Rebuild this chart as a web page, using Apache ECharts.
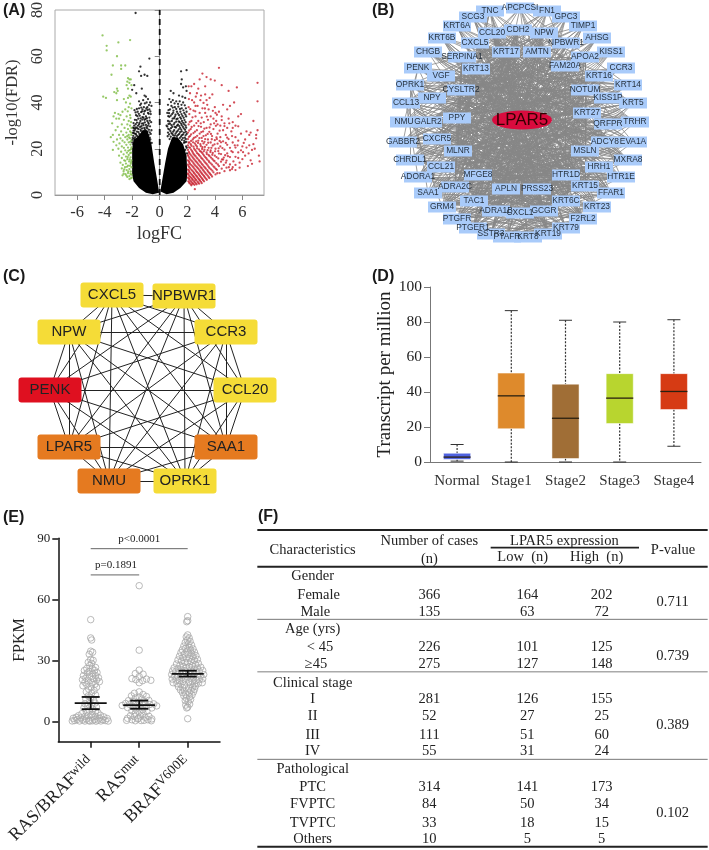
<!DOCTYPE html>
<html><head><meta charset="utf-8">
<style>html,body{margin:0;padding:0;background:#fff}#c{width:709px;height:850px}</style>
<script src="https://cdn.jsdelivr.net/npm/echarts@6/dist/echarts.min.js"></script></head>
<body><div id="c"></div>
<script>
// ---------- Panel A: volcano (logFC, -log10 FDR) ----------
const denseLeft=[[-0.05,1],[-0.5,0.3],[-1,1],[-1.5,3],[-1.9,6],[-2,9],[-2,20],[-1.9,24],[-1.6,25],[-1.25,28],[-0.9,28],[-0.6,22],[-0.4,14],[-0.2,7],[-0.06,2]];
const denseRight=[[0.05,1.5],[0.5,0.3],[1,1],[1.5,3],[1.95,6],[2,9],[1.95,17],[1.7,22],[1.3,25],[0.9,25],[0.6,20],[0.4,14],[0.2,7],[0.07,2.5]];
const blackPts=[[-1.75,78.7],[-0.75,59],[-1.4,55.5],[-1.5,53.5],[-1.1,52],[-1.35,51.5],[-0.9,51.5],[-1.85,47.5],[-2,45.5],[-1.3,46],[-1.7,44],[-1.1,43],[-1.0,42.5],[-0.85,41.5],[-1.2,41],[-1.5,40.5],[-0.7,40],[-0.95,40],[-1.35,39.5],[-0.6,38.5],[-1.15,38],[-0.9,38],[-1.5,37.5],[-1.25,37],[-0.75,37],[-1.05,36.5],[-1.6,36],[-1.35,35.8],[-0.85,35.5],[-1.15,35],[-0.65,35],[-1.72,34.5],[-1.45,34.3],[-1,34],[-1.25,33.7],[-0.75,33.5],[-1.55,33],[-1.8,32.5],[-1.1,32.5],[-0.9,32],[-1.4,32],[-0.62,31.5],[-1.65,31.3],[-1.2,31],[-0.8,30.8],[-1.5,30.5],[-1,30.3],[-1.85,30],[-1.32,29.8],[-0.7,29.7],[-1.72,29.2],[-1.12,29],[-0.9,28.8],[-1.55,28.5],[-1.4,28.3],[-0.6,28],[-1.9,27.8],[-1.65,27.4],[-1.22,27.3],[-1.8,26.5],[-1.48,26.4],[-1.05,26.2],[-0.8,26],[-1.92,25.6],[-1.6,25.3],[-1.3,25.1],[-0.72,24.8],
[0.5,30],[0.8,45],[1,44],[1.4,43],[1.7,46.5],[1.9,47],[1.95,45],[1.55,53.5],[1.95,54],[1.6,50],[1.55,48],[0.7,41.5],[0.95,41],[1.2,40.5],[1.45,40.5],[1.7,40],[1.85,42],[1.65,42.5],[0.6,39],[0.85,38.5],[1.1,38],[1.35,38.2],[1.6,37.5],[1.9,37.5],[0.75,37],[1.0,36.5],[1.25,36],[1.5,36],[1.78,35.5],[0.55,35.5],[0.9,35],[1.15,34.7],[1.4,34.5],[1.65,34.2],[1.92,34],[0.7,33.8],[1.05,33.2],[1.3,33],[1.55,33],[1.8,32.4],[0.6,32],[0.88,32],[1.2,31.7],[1.45,31.5],[1.7,31.2],[0.75,30.8],[1.02,30.5],[1.33,30.4],[1.6,30.2],[1.88,30],[0.55,29.6],[0.92,29.5],[1.18,29.2],[1.48,29],[1.75,28.8],[0.7,28.3],[1.05,28],[1.3,27.7],[1.6,27.5],[1.9,27.3],[0.6,27],[0.85,26.8],[1.15,26.5],[1.42,26.4],[1.7,26.2],[0.98,25.8],[1.25,25.5],[1.55,25.3],[1.82,24.8],[1.93,23],[1.78,23.5],[1.92,21],[1.85,19.5],[1.98,18]];
const blackExtra=[[-1.83,36.7],[-1.42,38.9],[-1.08,39.6],[-0.78,38.9],[-1.66,37.2],[-1.28,36.2],[-0.97,37.4],[-0.68,36.1],[-1.52,35.1],[-1.12,36.1],[-0.93,33.2],[-1.38,33.1],[-1.68,32.4],[-0.83,31.3],[-1.08,31.4],[-1.3,30.9],[-1.58,29.9],[-0.96,29.3],[-1.77,28.6],[-1.36,27.7],[-1.02,27.8],[-0.72,27.1],[-1.88,26.8],[-1.55,24.9],[-1.75,35.7],[-1.62,34.1],[-1.18,33.4],[-0.8,35.1],[-1.47,31.2],[-1.26,32.6],[-1.03,32.9],[-0.72,32.2],[-1.9,31.1],[-1.74,30.6],[-1.42,29.4],[-1.18,30.2],[-0.86,29.9],[-0.65,26.4],[-1.94,29.1],[-1.62,28.9],[-1.28,28.8],[-1.08,28.4],[-0.78,28.2],[-1.82,27.9],[-1.54,27.2],[-1.14,27.6],[-0.88,27.3],[-1.96,24.7],[-1.72,26.3],[-1.4,25.8],[-0.95,25.4],[-0.68,24],[-1.86,24.4],[-1.68,25.7],[-1.2,25.9],[-0.84,24.6],[-1.98,23.8],[-1.78,24.9],[-1.46,25.3],[-1.12,24.8],[-0.58,22.5],[-1.99,22.7],[-1.92,21.9],[-1.95,26.9],[-1.86,28.9],[-1.34,37.8],[-0.88,36.8],
[0.64,36.7],[0.82,40.2],[1.08,39.6],[1.33,39.4],[1.58,39],[1.82,38.8],[0.95,37.8],[1.2,37.2],[1.47,37.2],[1.72,36.6],[1.95,36],[0.68,35.4],[0.98,35.6],[1.32,35.2],[1.58,35],[1.86,34.8],[0.8,34.3],[1.1,33.9],[1.48,33.6],[1.74,33.4],[0.62,34.1],[0.94,33],[1.22,32.8],[1.62,32],[1.88,31.5],[0.72,31.7],[1.08,31.2],[1.38,31.8],[1.55,30.9],[1.78,30.5],[0.64,30.7],[0.86,30.2],[1.26,30],[1.42,29.8],[1.68,29.5],[1.92,29.1],[0.62,28.6],[0.82,28.9],[1.1,29.4],[1.38,28.4],[1.56,28.3],[1.84,28.2],[0.78,27.6],[0.98,27.4],[1.22,27.2],[1.48,27.2],[1.76,27],[1.96,26.4],[0.68,26.2],[0.92,26.4],[1.1,25.7],[1.34,26],[1.62,25.9],[1.88,25.8],[0.58,25.4],[0.8,25.2],[1.04,24.8],[1.46,24.7],[1.68,24.6],[1.9,24.2],[0.72,24.2],[1.6,23.8],[1.84,22.8],[1.96,20.4],[1.76,22.6]];
const greenPts=[[-4.15,69],[-3.85,64.5],[-3.85,62.5],[-3,66],[-2.15,67],[-3.1,60],[-3.4,56],[-2.8,56],[-2.5,56],[-2.8,54.5],[-3.5,52],[-2.3,50.5],[-2.2,50],[-2.1,50],[-2.35,49],[-2.2,48.5],[-2.4,47.5],[-2.05,47.5],[-3.1,46],[-3.05,45],[-3.15,44],[-3.3,44.5],[-2.3,46],[-4.1,42.5],[-3.9,42],[-2.2,43],[-2.3,42],[-2.1,42.5],[-2.6,41.5],[-2.45,40],[-3.1,41],[-2.15,39.5],[-2.25,38],[-2.05,37.5],[-2.5,37],[-2.7,36],[-3.25,35.5],[-3,35],[-2.85,34.5],[-3.35,34],[-2.4,34],[-2.15,34.5],[-3.15,33],[-2.95,33],[-2.6,32.5],[-2.25,32],[-2.08,31.5],[-3.45,31],[-2.75,30.5],[-2.35,30.5],[-2.15,30],[-3.05,29.5],[-2.55,29],[-2.05,29],[-2.3,28.5],[-3.2,28],[-2.8,27.5],[-2.15,27.5],[-2.42,27],[-3.4,26],[-2.95,26],[-2.65,26],[-2.25,26],[-2.06,26],[-3.55,25],[-2.5,25],[-2.85,24.5],[-2.15,24.5],[-3.1,24],[-2.35,24],[-2.7,23.5],[-3.35,23],[-2.05,23.5],[-2.55,22.8],[-2.25,22.8],[-2.92,22.3],[-3.15,21.5],[-2.42,21.7],[-2.12,21.8],[-2.75,21],[-2.6,20.4],[-2.3,20.5],[-2.05,20.6],[-3.0,20],[-3.4,19.5],[-2.5,19.3],[-2.18,19.4],[-2.8,18.7],[-2.38,18.3],[-2.08,18.3],[-2.62,17.6],[-2.95,17],[-2.25,17.3],[-2.45,16.6],[-2.12,16.3],[-2.75,16],[-2.35,15.5],[-2.58,15],[-2.05,15],[-2.22,14.5],[-2.85,14],[-2.45,13.6],[-2.68,13],[-2.1,13.5],[-2.3,12.7],[-2.52,12],[-2.05,12],[-2.75,11.5],[-2.2,11.2],[-2.4,10.8],[-2.62,10.3],[-2.1,10.2],[-2.3,9.5],[-2.48,9],[-2.05,8.8],[-2.7,8.5],[-2.2,8.2],[-2.02,7.5],[-2.35,7.8],[-2.12,33.3],[-2.32,36.2],[-2.08,27],[-2.22,24.9],[-2.14,23],[-2.36,25.4],[-2.08,19.8],[-2.28,19.1],[-2.14,18.1],[-2.32,16.4],[-2.18,15.4],[-2.5,14.8],[-2.08,14.2],[-2.38,12.2],[-2.16,12.6],[-2.58,11.1],[-2.28,10.2],[-2.12,9.2],[-2.42,8.4],[-2.62,9.2],[-2.2,6.9],[-2.1,7.2]];
const redPts=[[2.3,47],[2.5,48],[2.7,44],[3.4,51],[3.1,52.5],[3.7,50],[4.3,55],[4,49.5],[4.5,47.5],[5,45],[5.6,46.5],[7.1,48.5],[7.1,40.5],[6.8,32],[5.4,40],[5.1,38.5],[4.9,37],[4.6,39],[5.9,35],[5.7,34],[2.2,44],[2.5,40],[2.9,50],[3.3,47],[2.8,46],[2.1,47],[3,43],[3.4,41],[2.35,41],[2.75,38.5],[3.45,39],[2.1,38],[3.1,37.5],[3.55,37],[4,38],[4.3,36],[2.45,36.5],[2.9,35.5],[3.3,35.5],[3.7,34],[4.5,34],[5,33],[5.3,31.5],[2.15,35],[2.6,34],[3.05,33.5],[3.5,32.5],[4.1,32],[4.7,31],[5.5,30],[5.7,29.7],[6.3,27.5],[6.6,27],[7.1,28],[7,26],[2.3,32],[2.8,32],[3.2,31.5],[3.7,30.5],[4.4,30],[4.9,29],[2.1,30.5],[2.5,30],[3,29.5],[3.4,29],[3.9,28.5],[4.6,28],[5.2,27.5],[5.9,26.5],[6.5,26],[7,24.5],[2.25,28.5],[2.7,28],[3.15,27.5],[3.6,27.3],[4.2,26.5],[4.8,26],[5.5,25],[6.2,24],[6.8,22],[7.2,17],[7.25,14.5],[2.05,27],[2.45,26.8],[2.9,26.5],[3.35,25.8],[3.8,25.5],[4.4,25],[5,24.2],[5.7,23.5],[6.1,22.5],[6.5,21.5],[6.3,20.5],[6,21],[2.2,25.5],[2.6,25],[3.05,24.7],[3.5,24],[4,23.7],[4.6,23.2],[5.3,22.7],[5.9,19.3],[6.7,19.5],[6.9,20],[2.05,24.2],[2.4,24],[2.8,23.5],[3.25,23],[3.7,22.7],[4.2,22.2],[4.9,21.7],[5.5,20.5],[6.2,17],[6.6,15],[6.7,13.5],[6.4,12.5],[2.15,22.8],[2.55,22.3],[2.95,22],[3.4,21.7],[3.85,21.4],[4.4,21],[5.1,20.4],[5.7,18.4],[2.05,21.5],[2.3,21.3],[2.7,21],[3.1,20.7],[3.55,20.4],[4.05,20],[4.7,19.6],[5.3,18.5],[6,15.5],[2.2,20.4],[2.5,20],[2.85,19.7],[3.25,19.6],[3.7,19.3],[4.25,19],[4.9,18],[5.5,16.5],[2.05,19.5],[2.35,19],[2.65,18.8],[3,18.7],[3.4,18.4],[3.85,18.2],[4.45,17.7],[5.1,16.4],[5.8,14],[2.15,18.1],[2.45,17.8],[2.8,17.7],[3.15,17.6],[3.55,17.3],[4,17],[4.65,16.2],[5.35,14.5],[2.05,17.2],[2.3,17],[2.6,16.8],[2.95,16.7],[3.3,16.4],[3.72,16.2],[4.25,15.8],[4.85,14.9],[5.5,13],[2.15,16],[2.45,15.8],[2.75,15.7],[3.1,15.6],[3.45,15.3],[3.9,15],[4.45,14.4],[5.1,13.2],[5.8,11.8],[2.05,15],[2.3,14.9],[2.6,14.7],[2.9,14.6],[3.25,14.4],[3.6,14.2],[4.1,13.8],[4.65,13],[5.3,12],[2.15,14],[2.45,13.8],[2.75,13.7],[3.05,13.5],[3.4,13.4],[3.8,13.1],[4.3,12.5],[4.85,11.8],[5.5,10.8],[2.05,13.1],[2.3,12.9],[2.6,12.7],[2.9,12.6],[3.2,12.4],[3.55,12.2],[3.98,11.9],[4.5,11.4],[5.1,10.7],[2.15,12],[2.45,11.9],[2.75,11.7],[3.05,11.6],[3.35,11.4],[3.72,11.1],[4.15,10.9],[4.7,10.3],[2.05,11],[2.3,10.9],[2.6,10.8],[2.9,10.6],[3.18,10.5],[3.5,10.2],[3.9,9.8],[4.35,9.5],[2.15,10],[2.45,9.9],[2.72,9.8],[3.02,9.6],[3.32,9.4],[3.65,9.2],[4.05,8.9],[2.05,9.2],[2.3,9],[2.58,8.9],[2.86,8.8],[3.15,8.6],[3.48,8.4],[3.8,8],[2.15,8.2],[2.43,8.1],[2.7,8],[2.98,7.8],[3.28,7.6],[3.6,7.3],[2.05,7.5],[2.3,7.4],[2.55,7.2],[2.82,7],[3.1,6.9],[3.42,6.6],[2.15,6.7],[2.4,6.5],[2.65,6.4],[2.92,6.2],[3.22,5.9],[2.08,5.9],[2.3,5.7],[2.55,5.5],[2.8,5.3],[3.05,5.1],[2.18,5],[2.42,4.8],[2.68,4.6],[2.3,4.2],[2.55,2.5]];
const redExtra=[[2.12,41.5],[2.62,42.5],[3.18,39.8],[3.62,42],[3.82,43.5],[2.22,37.1],[2.58,36.2],[3.28,37.4],[3.86,36.4],[2.38,33.6],[2.98,31],[3.42,33.9],[4.15,34.7],[2.18,31.6],[2.66,31.1],[3.62,29.2],[4.08,29.9],[2.32,29.4],[2.82,29.8],[3.24,28.7],[3.72,26.4],[2.14,27.9],[2.56,27.4],[3.02,27.2],[3.48,26.4],[2.28,26.2],[2.72,25.6],[3.18,25.5],[4.12,24.9],[2.12,25.1],[2.48,24.7],[2.88,24.6],[3.3,24.2],[3.78,24.1],[2.28,23.4],[2.65,23.2],[3.08,23.3],[3.52,22.6],[4.35,23.4],[2.1,22.6],[2.42,22.8],[2.78,22.5],[3.18,22.3],[3.98,21.9],[2.25,22],[2.62,21.6],[2.98,21.2],[3.28,20.8],[3.75,20.4],[2.12,20.6],[2.45,20.9],[2.72,20.2],[3.08,19.9],[3.48,19.4],[4.02,18.9],[2.28,19.6],[2.58,19.4],[2.92,19],[3.2,18.9],[3.68,18.6],[4.3,17.9],[2.12,18.6],[2.4,18.4],[2.72,18.1],[3.08,18.2],[3.42,17.7],[3.82,17.4],[2.22,17.6],[2.52,17.3],[2.86,17.2],[3.22,17],[3.62,16.8],[4.12,16.4],[2.1,16.6],[2.38,16.4],[2.68,16.2],[3.02,16],[3.38,15.9],[3.82,15.6],[4.52,15.4],[2.22,15.4],[2.52,15.3],[2.84,15.1],[3.18,15],[3.55,14.8],[3.98,14.6],[2.12,14.5],[2.38,14.4],[2.68,14.2],[2.98,14.1],[3.32,13.9],[3.7,13.7],[4.22,13.2],[2.2,13.4],[2.52,13.2],[2.82,13.1],[3.12,13],[3.48,12.8],[3.9,12.4],[2.1,12.5],[2.38,12.4],[2.68,12.2],[2.98,12],[3.28,11.9],[3.62,11.6],[4.08,11.3],[2.22,11.5],[2.52,11.3],[2.82,11.2],[3.12,11],[3.45,10.8],[3.82,10.5],[2.12,10.6],[2.38,10.4],[2.66,10.2],[2.96,10.1],[3.25,10],[3.58,9.7],[4.18,9.4],[2.22,9.6],[2.5,9.4],[2.8,9.3],[3.08,9.1],[3.4,8.9],[3.72,8.7],[2.1,8.8],[2.36,8.6],[2.64,8.4],[2.92,8.3],[3.22,8.1],[3.55,7.8],[2.22,7.8],[2.48,7.7],[2.76,7.5],[3.05,7.3],[3.35,7.1],[2.12,7.1],[2.36,6.9],[2.6,6.8],[2.88,6.6],[3.15,6.4],[2.24,6.2],[2.5,6],[2.74,5.8],[3,5.7],[2.14,5.4],[2.38,5.2],[2.62,5],[2.86,4.9],[2.28,4.6],[2.52,4.4],[4.8,14],[5.02,12],[5.25,11.2],[4.6,15.3],[4.95,16.8],[4.75,17.2],[4.28,20.2],[4.55,20.3],[4.8,22.5],[5.2,19],[5.45,21.5],[4.45,22.8],[4.15,24.2],[4.9,24.8],[5.25,25.5],[5.65,21.5],[6.05,18.5],[6.45,18],[5.7,16],[4.35,27.8],[4.7,29.8],[5.3,29],[5.05,31],[4.5,32.4],[3.95,31],[4.2,30.5],[3.9,33],[4.05,35.5],[3.3,43.5],[2.95,41],[2.6,38.5]];
// ---------- Panel B: network ----------
const netNames=["TNC","APCPCSI","FN1","SCG3","GPC3","KRT6A","TIMP1","KRT6B","AHSG","CCL20","CDH2","NPW","CXCL5","NPBWR1","CHGB","KISS1","KRT17","AMTN","SERPINA1","APOA2","PENK","CCR3","KRT13","FAM20A","VGF","KRT16","OPRK1","KRT14","CYSLTR2","NOTUM","NPY","KISS1P","CCL13","KRT5","PPY","KRT27","NMU","GALR2","QRFPR","TRHR","GABBR2","CXCR5","ADCY8","EVA1A","MLNR","MSLN","CHRDL1","MXRA8","CCL21","HRH1","ADORA1","MFGE8","HTR1D","HTR1E","ADRA2C","KRT15","SAA1","APLN","PRSS23","FFAR1","TAC1","KRT6C","GRM4","KRT23","ADRA1B","CXCL1","GCGR","PTGFR","F2RL2","PTGER1","KRT79","SSTR3","KRT19","KRT8","PTAFR","LPAR5"];
const netX=[130,160,187,113,206,97,223,82,237,132,158,184,115,206,68,251,146,177,102,225,58,261,116,205,81,239,50,268,101,225,72,248,46,273,97,227,44,68,248,275,43,77,245,273,98,225,50,268,81,239,58,118,206,261,95,225,68,146,177,251,114,206,82,237,136,160,184,97,223,113,206,131,188,168,147,162];
const netY=[11,8,11,17,17,26,26,38,38,33,30,33,43,43,52,52,52,52,57,57,68,68,69,66,76,76,85,85,90,90,98,98,103,103,118,113,122,122,124,122,142,139,142,142,151,151,160,160,167,167,177,175,175,177,187,186,193,189,189,193,201,201,207,207,211,213,211,219,219,228,228,234,234,237,237,120];
const netLinks=[[33,47,62,66,70,39,56,44,52,73],[27,40,68,50,63,72,36,59,69,43],[32,46,67,69,53,71,30,56,24,41],[39,53,66,27,45,61,72,59,68,33],[36,26,50,60,69,71,74,40,48,22],[43,59,70,47,33,52,66,58,72,29],[20,32,46,64,67,62,71,30,54,41],[27,33,53,68,61,39,58,63,45,66],[26,40,62,56,67,69,54,37,48,60],[42,55,63,68,70,59,33,49,72,47],[50,54,67,62,65,69,40,36,64,61],[46,56,62,71,69,32,41,60,50,37],[43,47,63,53,72,68,58,55,59,35],[36,50,56,69,67,74,44,64,37,41],[39,47,33,53,63,35,45,59,42,72],[26,32,40,46,56,62,67,44,30,69],[39,42,63,68,72,73,66,59,47],[40,46,62,64,69,71,50,37,54],[33,43,49,61,68,72,66,63,47],[36,40,50,54,60,69,64,32,46],[27,39,47,59,63,55,35,33,53],[26,32,46,50,62,54,48,41,37],[43,53,59,68,70,66,27,47,58],[40,50,62,67,71,74,32,54,30],[27,33,47,53,58,61,68,35,42],[36,46,56,67,64,60,41,34,30],[33,39,47,59,42,29,35,63,68],[32,40,50,62,54,48,37,51,60],[39,43,53,68,55,61,58,42,66],[36,40,56,62,64,51,34,71,48],[39,47,43,63,52,45,70,58],[36,46,40,62,51,44,60,67],[33,42,55,66,58,70,49,43],[40,50,56,64,74,54,41,69],[42,47,59,66,61,49,72,52,68],[46,50,62,67,60,44,37,65],[39,43,55,58,70,52,66],[42,49,59,72,61,68,55,52],[50,56,62,69,48,44,40,60],[46,50,44,54,67,74],[47,53,63,55,45,61,68],[53,59,45,49,61,70,66],[56,62,48,60,64,71,51],[50,46,54,67,62,74,56],[47,53,59,68,61,52,57],[56,62,67,51,60,69,48],[53,59,63,55,49,58],[50,56,62,54,64,71],[59,63,52,61,68,72],[62,67,51,60,65,74],[53,63,55,66,70,57,58],[59,68,70,61,72,66],[62,67,69,71,64,60],[56,62,60,65,74,51],[59,68,63,70,66],[62,67,69,60,74],[63,68,61,70,72,58],[62,69,71,67,64,73],[67,69,71,60,62],[62,67,69,64,73],[63,70,72,66],[67,71,74,69],[70,72,68,65],[67,71,69,74],[72,70,68],[71,74,72],[69,74,67],[70,73,72],[71,73,74],[72,70],[73,74],[72,70],[74],[70],[72],
[0,3,5,7,9,11,14,17,19,22,24,26,29,31,33,35,37,39,41,43,46,48,50,52,55,57,59,62,64,66,68,70,72,74]];
const netInnerLinks=[[9,23,29,35,45,52,55,58,61,66],[10,19,28,34,44,51,54,57,60,64],[11,22,28,34,41,44,51,54,60,65],[12,23,29,35,42,45,52,55,61,65],[13,18,22,28,34,44,51,54,60],[16,23,29,35,45,52,55,58,61],[17,22,28,34,44,51,54,57,60],[18,29,35,45,52,55,58,61,66],[19,28,34,41,44,51,54,57,64],[22,35,42,45,52,55,58,61],[23,34,41,44,51,54,57,60],[28,42,45,52,55,58,61,66],[29,41,44,51,54,57,60,64],[34,45,52,58,61,66],[35,44,51,57,60,64],[41,42,55,58,65],[44,52,61,66],[45,51,60,65],[49,48,57],[30,31,38],[37,42,49],[24,25,53],[20,21,43],[26,27,47],[32,33,39],[36,40,59],[46,56,63],[50,62,68]];
const netInnerFrom=[9,10,11,12,16,17,18,19,22,23,28,29,34,35,44,45,51,52,54,55,58,57,30,37,24,20,26,32];
// ---------- Panel C: hub genes ----------
const hubNames=["CXCL5","NPBWR1","CCR3","CCL20","SAA1","OPRK1","NMU","LPAR5","PENK","NPW"];
const hubX=[112,184,226,245,226,185,109,69,50,69];
const hubY=[30,31,67,125,182,216,216,182,125,67];
const hubRank=["y","y","y","y","o","y","o","o","r","y"];
// ---------- Panel D: boxes ----------
const stageNames=["Normal","Stage1","Stage2","Stage3","Stage4"];
const stageMin=[0.5,0,0,0,9];
const stageQ1=[1.5,19,2,22,30];
const stageMed=[2.8,37.8,25,36.5,40.3];
const stageQ3=[5,50.8,44.5,50.5,50.5];
const stageMax=[10,86.5,81,80,81.3];
const stageColors=["#4F62E0","#DE8A2C","#A06E36","#B8D52F","#D63B14"];
// ---------- Panel E: beeswarm (group offset, FPKM) ----------
const wildPts=[[0,50],[0,41],[0.02,40],[0,34.5],[0.04,34],[-0.03,33],[0,30.5],[0.05,30],[-0.05,29],[0.02,28.5],[-0.02,27.5],[0.1,26.5],[-0.08,26],[0.03,26],[-0.13,25],[0.08,25],[-0.03,24.5],[0.13,24],[-0.07,23.8],[0.04,23.5],[-0.15,22.5],[0.1,22.5],[-0.02,22.2],[0.16,21.5],[-0.1,21.3],[0.05,21],[-0.17,20.5],[0.12,20.3],[-0.05,20],[0.18,19.5],[-0.12,19.2],[0.03,19],[0.09,18.3],[-0.08,18],[-0.16,17.5],[0.01,17],[0.12,16.8],[-0.04,15.8],[0.07,15.2],[-0.09,14.5],[0.02,13.8],[0.1,13],[-0.05,12.5],[0,11.7],[-0.1,11],[0.06,10.5],[-0.02,9.8],[0.09,9],[-0.12,8.7],[0.02,8],[-0.06,7.4],[0.12,7],[-0.14,6.6],[0.04,6],[-0.03,5.4],[0.1,5],[-0.09,4.6],[0.15,4.2],[-0.18,3.8],[0.03,3.5],[-0.05,3],[0.2,3],[-0.25,2.8],[0.1,2.5],[-0.12,2.4],[0.27,2.2],[-0.3,2],[0.02,2],[-0.2,1.7],[0.18,1.6],[-0.36,1.5],[0.34,1.4],[-0.09,1.2],[0.08,1],[-0.28,0.9],[0.25,0.8],[-0.16,0.7],[0.15,0.6],[-0.04,0.5],[0.3,0.4],[-0.33,0.4],[0.04,0.3],[-0.23,0.2],[0.21,0.2],[-0.12,0.15],[0.11,0.1],[-0.02,0.1],[0.36,0.15],[-0.38,0.2]];
const rasPts=[[0,66.7],[0,35],[0,25.2],[-0.08,23.5],[0.08,23.2],[0,22],[-0.15,21],[0.15,20.8],[-0.07,20.5],[0.07,20],[0.24,20.2],[0,19],[0,14.5],[-0.1,13.8],[0.08,13.2],[-0.16,12.5],[0.15,12.2],[0,12],[-0.08,11.5],[0.06,11],[-0.22,10.2],[0.2,10.3],[-0.13,10],[0.12,9.6],[0,9.5],[-0.28,8.8],[0.3,8.6],[-0.2,8.4],[0.22,8.3],[-0.08,8.2],[0.08,8],[-0.35,7.8],[0.36,7.6],[-0.14,7.3],[0.15,7.2],[0,7],[-0.24,6.8],[0.26,6.6],[-0.07,6],[0.07,5.8],[-0.15,5.2],[0.16,5],[0,4.8],[-0.08,4],[0.08,3.9],[-0.18,2.8],[0.03,2.6],[0.2,2.5],[-0.1,2.4],[0.12,2],[-0.24,1.5],[-0.03,1.2],[0.26,1.2],[-0.15,0.8],[0.18,0.8],[-0.26,0.5],[0.04,0.4],[-0.08,0.3],[0.1,0.5],[-0.02,1.5],[0.25,0.3]];
const brafPts=[[0,51.5],[0,49.5],[-0.02,49],[0,42.5],[-0.03,41.5],[0.03,41],[-0.01,40],[0.05,39.3],[-0.05,38.8],[0.01,38],[0.08,37.5],[-0.08,37],[0.03,36.5],[-0.04,36],[0.11,35.6],[-0.11,35.2],[0.06,35],[-0.01,34.5],[0.14,34],[-0.14,33.8],[0.08,33.4],[-0.07,33],[0.01,32.8],[0.17,32.3],[-0.17,32],[0.11,31.8],[-0.1,31.4],[0.04,31],[-0.03,30.8],[0.2,30.5],[-0.2,30.2],[0.14,30],[-0.13,29.7],[0.07,29.4],[-0.06,29],[0,28.8],[0.22,28.5],[-0.23,28.2],[0.16,28],[-0.16,27.6],[0.09,27.4],[-0.09,27],[0.03,26.8],[-0.03,26.5],[0.27,26.6],[-0.28,26.3],[0.2,26.2],[-0.2,25.9],[0.13,25.7],[-0.13,25.4],[0.06,25.2],[-0.05,25],[0.31,25],[-0.31,24.8],[0.24,24.6],[-0.25,24.4],[0.17,24.2],[-0.17,24],[0.1,23.8],[-0.1,23.6],[0.02,23.4],[0.33,23],[-0.33,23],[0.27,22.6],[-0.27,22.4],[0.2,22.2],[-0.2,22],[0.12,21.8],[-0.12,21.6],[0.05,21.4],[-0.04,21.2],[0.31,20.9],[-0.32,20.8],[0.24,20.5],[-0.24,20.3],[0.17,20.2],[-0.17,20],[0.09,19.8],[-0.09,19.6],[0.02,19.4],[0.3,19],[-0.3,19],[0.22,18.7],[-0.22,18.5],[0.14,18.4],[-0.14,18.2],[0.06,18],[-0.06,17.8],[0.16,17.3],[-0.19,17],[0.1,16.8],[-0.1,16.5],[0.02,16.3],[0.14,15.8],[-0.15,15.5],[0.07,15.2],[-0.07,15],[0.12,14.5],[-0.11,14.2],[0.03,14],[-0.04,13.3],[0.09,13],[-0.08,12.6],[0.04,12],[-0.03,11.4],[0.06,10.8],[-0.05,10.2],[0.01,9.7],[0.04,8.5],[-0.04,8],[0,7],[-0.02,6.6],[0,1.3]];
const groupLabels=["{b|RAS/BRAF}{s|wild}","{b|RAS}{s|mut}","{b|BRAF}{s|V600E}"];
const groupMean=[9,8,23.3];
const groupLow=[6,6.2,22];
const groupHigh=[12,10.2,24.9];
const pBars=[[0,2,84.9,"p<0.0001",1.0],[0,1,72,"p=0.1891",0.52]];
// ---------- Panel F: table ----------
const rowLabels=["Gender","Female","Male","Age (yrs)","< 45","≥45","Clinical stage","I","II","III","IV","Pathological","PTC","FVPTC","TVPTC","Others"];
const rowLabelCol=[218,236,226,218,240,228,218,218,218,218,218,218,218,218,218,218];
const rowPos=[215,270,321,372,427,478,534,584,635,690,740,792,848,897,954,1004];
const casesN=["","366","135","","226","275","","281","52","111","55","","314","84","33","10"];
const lowN=["","164","63","","101","127","","126","27","51","31","","141","50","18","5"];
const highN=["","202","72","","125","148","","155","25","60","24","","173","34","15","5"];
const pValues=[["0.711",293],["0.739",455],["0.389",662],["0.102",925]];
const headerCells=[["Characteristics",218,135],["Number of cases",568,108],["(n)",568,163],["LPAR5 expression",973,108],["Low  (n)",848,158],["High  (n)",1070,158],["P-value",1299,135]];
const tableRules=[[52,1403,75,2,"#222"],[52,1403,185,2,"#222"],[752,1197,128,1.6,"#222"],[52,1403,343,1,"#777"],[52,1403,500,1.5,"#aaa"],[52,1403,763,1,"#777"],[52,1403,1025,2,"#222"]];
const columnPos={cases:568,low:862,high:1085,p:1298};

const SERIF="'Liberation Serif','Times New Roman',serif", SANS="'Liberation Sans',Arial,sans-serif";
const hubColor={y:"#F5DC37",o:"#E57A20",r:"#DF1020"};
const boxPath="path://M3 0H60Q63 0 63 3V22Q63 25 60 25H3Q0 25 0 22V3Q0 0 3 0Z";
const hubLinks=[];hubNames.forEach((_,i)=>{for(let j=i+1;j<hubNames.length;j++)hubLinks.push({source:i,target:j});});
const netEdges=[];netLinks.forEach((row,i)=>row.forEach(j=>{if(j<netNames.length&&j!==i)netEdges.push({source:i,target:j});}));
netInnerLinks.forEach((row,i)=>row.forEach(j=>{if(j!==netInnerFrom[i])netEdges.push({source:netInnerFrom[i],target:j});}));
const netNodes=netNames.map((n,i)=>{
  const hub=n==="LPAR5";
  return {name:n,value:[netX[i],netY[i]],symbol:hub?"circle":"rect",symbolSize:hub?[60,19]:[28,11],
    itemStyle:{color:hub?"#D90B3E":"#A9CBFA"},
    label:{show:true,position:"inside",fontFamily:SANS,fontSize:hub?17:8.4,color:hub?"#300":"#26323f"}};
});
const hubNodes=hubNames.map((n,i)=>({name:n,value:[hubX[i],hubY[i]],symbol:boxPath,symbolKeepAspect:false,symbolSize:[63,25],
  itemStyle:{color:hubColor[hubRank[i]]},label:{show:true,position:"inside",fontFamily:SANS,fontSize:15,color:"#222"}}));
const polySeries=pts=>({type:"custom",xAxisIndex:0,yAxisIndex:0,silent:true,data:pts,
  renderItem:(p,api)=>p.dataIndex===0?{type:"polygon",shape:{points:pts.map(q=>api.coord(q))},style:{fill:"#000"}}:null,
  encode:{x:0,y:1},clip:false,z:2});
const dots=(pts,color,z)=>({type:"scatter",xAxisIndex:0,yAxisIndex:0,data:pts,symbolSize:2.3,itemStyle:{color},z,silent:true});
const swarm=(pts,g)=>({type:"scatter",xAxisIndex:4,yAxisIndex:4,data:pts.map(p=>[g+p[0],p[1]]),symbolSize:6.5,silent:true,
  itemStyle:{color:"rgba(255,255,255,0)",borderColor:"#a9a9a9",borderWidth:1},z:2});
const cells=[];
rowLabels.forEach((t,i)=>{
  cells.push([t,rowLabelCol[i],rowPos[i]],[casesN[i],columnPos.cases,rowPos[i]],[lowN[i],columnPos.low,rowPos[i]],[highN[i],columnPos.high,rowPos[i]]);
});
pValues.forEach(p=>cells.push([p[0],columnPos.p,p[1]]));
headerCells.forEach(h=>cells.push(h));
const titleAt=(t,l,top)=>({text:t,left:l,top:top,padding:0,textStyle:{fontFamily:SANS,fontWeight:"bold",fontSize:16,color:"#1a1a1a"}});
const hidden=(min,max,grid,extra)=>Object.assign({type:"value",show:false,min,max,gridIndex:grid,splitLine:{show:false}},extra||{});

const option={animation:false,backgroundColor:"#fff",
title:[titleAt("(A)",3,3),titleAt("(B)",372,3),titleAt("(C)",3,269),titleAt("(D)",372,269),titleAt("(E)",3,510),titleAt("(F)",258,509)],
grid:[
 {left:55,top:10,width:209,height:185,show:true,borderColor:"#aaa",borderWidth:1,outerBoundsMode:"none"},
 {left:360,top:0,width:349,height:245,outerBoundsMode:"none"},
 {left:0,top:265,width:290,height:245,outerBoundsMode:"none"},
 {left:430,top:287,width:271,height:175,outerBoundsMode:"none"},
 {left:58.3,top:538.3,width:161.7,height:203.4,outerBoundsMode:"none"},
 {left:240,top:505,width:469,height:345,outerBoundsMode:"none"}],
xAxis:[
 {type:"value",gridIndex:0,min:-7.6,max:7.57,name:"logFC",nameLocation:"middle",nameGap:30,nameTextStyle:{fontFamily:SERIF,fontSize:18,color:"#333"},
  splitLine:{show:false},axisLine:{show:true,lineStyle:{color:"#999"},onZero:false},
  axisTick:{show:true,length:5,lineStyle:{color:"#888"},customValues:[-6,-4,-2,0,2,4,6]},
  axisLabel:{fontFamily:SERIF,fontSize:16.5,color:"#333",margin:9,customValues:[-6,-4,-2,0,2,4,6]}},
 hidden(0,349,1),hidden(0,290,2),
 {type:"category",gridIndex:3,data:stageNames,axisLine:{lineStyle:{color:"#777"}},axisTick:{show:false},
  axisLabel:{fontFamily:SERIF,fontSize:15,color:"#333",margin:12,interval:0}},
 {type:"value",gridIndex:4,min:-0.668,max:2.666,splitLine:{show:false},axisLine:{onZero:false,lineStyle:{color:"#111",width:1.5}},
  axisTick:{length:6,lineStyle:{color:"#111",width:1.5},customValues:[0,1,2]},
  axisLabel:{rotate:45,margin:18,customValues:[0,1,2],formatter:v=>groupLabels[v]||"",
   rich:{b:{fontFamily:SERIF,fontSize:18,color:"#222"},s:{fontFamily:SERIF,fontSize:13.5,color:"#222",padding:[0,0,7,0]}}}},
 hidden(0,469,5)],
yAxis:[
 {type:"value",gridIndex:0,min:0,max:80,interval:20,name:"-log10(FDR)",nameLocation:"middle",nameGap:34,nameTextStyle:{fontFamily:SERIF,fontSize:16.5,color:"#333"},
  splitLine:{show:false},axisLine:{show:true,lineStyle:{color:"#999"}},axisTick:{show:true,length:5,lineStyle:{color:"#888"}},
  axisLabel:{rotate:90,fontFamily:SERIF,fontSize:16,color:"#333",margin:9}},
 hidden(0,245,1,{inverse:true}),hidden(0,245,2,{inverse:true}),
 {type:"value",gridIndex:3,min:0,max:100,interval:20,name:"Transcript per million",nameLocation:"middle",nameGap:34,nameTextStyle:{fontFamily:SERIF,fontSize:19,color:"#222"},
  splitLine:{show:false},axisLine:{show:true,lineStyle:{color:"#777"}},axisTick:{show:true,length:6,lineStyle:{color:"#777"}},
  axisLabel:{fontFamily:SERIF,fontSize:15.5,color:"#222",margin:8}},
 {type:"value",gridIndex:4,min:-10,max:90,interval:10,name:"FPKM",nameLocation:"middle",nameGap:31,nameRotate:90,nameTextStyle:{fontFamily:SERIF,fontSize:16,color:"#222",padding:[0,0,0,0]},
  splitLine:{show:false},axisLine:{show:true,onZero:false,lineStyle:{color:"#111",width:1.5}},
  axisTick:{show:true,length:6,lineStyle:{color:"#111",width:1.5},customValues:[0,30,60,90]},
  axisLabel:{fontFamily:SERIF,fontSize:13,color:"#222",margin:8,customValues:[0,30,60,90]}},
 hidden(0,1035,5,{inverse:true})],
series:[
 polySeries(denseLeft),polySeries(denseRight),
 dots(blackPts,"#000",3),dots(blackExtra,"#000",3),dots(greenPts,"#7DBB42",4),dots(redPts,"#C8202E",4),dots(redExtra,"#C8202E",4),
 {type:"line",xAxisIndex:0,yAxisIndex:0,data:[[0,0],[0,80]],symbol:"none",lineStyle:{color:"#111",width:1.8,type:[6,4]},z:6,silent:true},
 {type:"graph",layout:"none",coordinateSystem:"cartesian2d",xAxisIndex:1,yAxisIndex:1,silent:true,
  data:netNodes,links:netEdges,lineStyle:{color:"#868686",width:0.8,opacity:1,curveness:0},edgeSymbol:["none","none"]},
 {type:"graph",layout:"none",coordinateSystem:"cartesian2d",xAxisIndex:2,yAxisIndex:2,silent:true,
  data:hubNodes,links:hubLinks,lineStyle:{color:"#222",width:1,opacity:1,curveness:0},edgeSymbol:["none","none"]},
 {type:"custom",xAxisIndex:3,yAxisIndex:3,silent:true,encode:{x:0,y:[1,2,3,4,5]},
  data:stageNames.map((_,i)=>[i,stageMin[i],stageQ1[i],stageMed[i],stageQ3[i],stageMax[i]]),
  renderItem:(p,api)=>{
   const i=api.value(0),bw=api.size([1,0])[0]*0.5,capw=13;
   const P=v=>api.coord([i,v]);
   const [x]=P(0),y0=P(api.value(1))[1],y1=P(api.value(2))[1],ym=P(api.value(3))[1],y3=P(api.value(4))[1],y4=P(api.value(5))[1];
   const line=(a,b,c,d,st)=>({type:"line",shape:{x1:a,y1:b,x2:c,y2:d},style:Object.assign({stroke:"#333",lineWidth:1},st||{})});
   const dash={lineDash:[2,1.5],lineWidth:1.2};
   return {type:"group",children:[
    line(x,y4,x,y3,dash),line(x,y1,x,y0,dash),
    line(x-capw/2,y4,x+capw/2,y4),line(x-capw/2,y0,x+capw/2,y0),
    {type:"rect",shape:{x:x-bw/2,y:y3,width:bw,height:y1-y3},style:{fill:stageColors[i],stroke:"#fff",lineWidth:0.5}},
    line(x-bw/2,ym,x+bw/2,ym,{stroke:"#2a2010",lineWidth:1.3})]};
  }},
 swarm(wildPts,0),swarm(rasPts,1),swarm(brafPts,2),
 {type:"custom",xAxisIndex:4,yAxisIndex:4,silent:true,z:4,encode:{x:0,y:[1,2,3]},
  data:groupMean.map((m,i)=>[i,m,groupLow[i],groupHigh[i]]),
  renderItem:(p,api)=>{
   const c=api.value(0);const P=v=>api.coord([c,v]);
   const [x]=P(0),ym=P(api.value(1))[1],yl=P(api.value(2))[1],yh=P(api.value(3))[1];
   const st={stroke:"#111",lineWidth:1.8};
   const l=(a,b,d,e)=>({type:"line",shape:{x1:a,y1:b,x2:d,y2:e},style:st});
   return {type:"group",children:[l(x-16,ym,x+16,ym),l(x-9,yl,x+9,yl),l(x-9,yh,x+9,yh),l(x,yl,x,yh)]};
  }},
 {type:"custom",xAxisIndex:4,yAxisIndex:4,silent:true,z:4,encode:{x:[0,1],y:2},
  data:pBars.map(b=>[b[0],b[1],b[2],b[4]]),
  renderItem:(p,api)=>{
   const a=api.coord([api.value(0),api.value(2)]),b=api.coord([api.value(1),api.value(2)]),t=api.coord([api.value(3),api.value(2)]);
   return {type:"group",children:[
    {type:"line",shape:{x1:a[0],y1:a[1],x2:b[0],y2:b[1]},style:{stroke:"#666",lineWidth:1}},
    {type:"text",x:t[0],y:t[1]-10,style:{text:pBars[p.dataIndex][3],fontFamily:SERIF,fontSize:11,fill:"#222",textAlign:"center",textVerticalAlign:"middle"}}]};
  }},
 {type:"custom",xAxisIndex:5,yAxisIndex:5,silent:true,encode:{x:[0,1],y:2},
  data:tableRules.map(r=>[r[0]/3,r[1]/3,r[2]]),
  renderItem:(p,api)=>{
   const a=api.coord([api.value(0),api.value(2)]),b=api.coord([api.value(1),api.value(2)]);
   const r=tableRules[p.dataIndex];
   return {type:"line",shape:{x1:a[0],y1:a[1],x2:b[0],y2:b[1]},style:{stroke:r[4],lineWidth:r[3]}};
  }},
 {type:"custom",xAxisIndex:5,yAxisIndex:5,silent:true,encode:{x:0,y:1},
  data:cells.map(c=>[c[1]/3,c[2]]),
  renderItem:(p,api)=>{
   const a=api.coord([api.value(0),api.value(1)]);
   return {type:"text",x:a[0],y:a[1],style:{text:cells[p.dataIndex][0],fontFamily:SERIF,fontSize:14.5,fill:"#222",textAlign:"center",textVerticalAlign:"middle"}};
  }}
]};
const chart=echarts.init(document.getElementById("c"),null,{renderer:"canvas"});
chart.setOption(option);
</script></body></html>
